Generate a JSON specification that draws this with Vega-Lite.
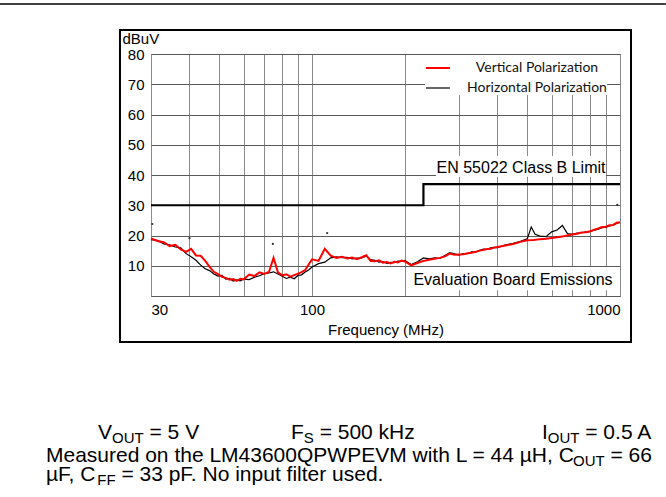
{
  "$schema": "https://vega.github.io/schema/vega-lite/v6.json",
  "autosize": {"type": "none"},
  "padding": {"left": 151, "top": 54, "right": 46, "bottom": 201},
  "width": 469,
  "height": 242,
  "background": "white",
  "config": {
    "view": {"stroke": "#8a8a8a"},
    "font": "Liberation Sans"
  },
  "datasets": {
    "one": [{}],
    "emis": [
      {"f":30,"v":18.6,"p":"Horizontal Polarization"},{"f":31.5,"v":18.4,"p":"Horizontal Polarization"},{"f":33,"v":17.2,"p":"Horizontal Polarization"},{"f":34.5,"v":16.9,"p":"Horizontal Polarization"},{"f":36,"v":16.2,"p":"Horizontal Polarization"},{"f":37.5,"v":15.9,"p":"Horizontal Polarization"},{"f":39,"v":14.0,"p":"Horizontal Polarization"},{"f":40.5,"v":13.0,"p":"Horizontal Polarization"},{"f":42,"v":11.8,"p":"Horizontal Polarization"},{"f":43.5,"v":10.2,"p":"Horizontal Polarization"},{"f":45,"v":9.0,"p":"Horizontal Polarization"},{"f":46.5,"v":8.4,"p":"Horizontal Polarization"},{"f":48,"v":7.3,"p":"Horizontal Polarization"},{"f":49.5,"v":6.6,"p":"Horizontal Polarization"},{"f":51,"v":6.8,"p":"Horizontal Polarization"},{"f":52.5,"v":5.6,"p":"Horizontal Polarization"},{"f":54,"v":5.8,"p":"Horizontal Polarization"},{"f":55.5,"v":4.9,"p":"Horizontal Polarization"},{"f":57,"v":5.3,"p":"Horizontal Polarization"},{"f":58.5,"v":5.0,"p":"Horizontal Polarization"},{"f":60,"v":5.6,"p":"Horizontal Polarization"},{"f":62.5,"v":5.4,"p":"Horizontal Polarization"},{"f":65,"v":6.2,"p":"Horizontal Polarization"},{"f":67.5,"v":6.7,"p":"Horizontal Polarization"},{"f":70,"v":7.4,"p":"Horizontal Polarization"},{"f":72.5,"v":7.6,"p":"Horizontal Polarization"},{"f":75,"v":8.0,"p":"Horizontal Polarization"},{"f":77.5,"v":7.3,"p":"Horizontal Polarization"},{"f":80,"v":6.5,"p":"Horizontal Polarization"},{"f":82.5,"v":5.8,"p":"Horizontal Polarization"},{"f":85,"v":6.2,"p":"Horizontal Polarization"},{"f":87.5,"v":5.7,"p":"Horizontal Polarization"},{"f":90,"v":6.8,"p":"Horizontal Polarization"},{"f":92.5,"v":7.0,"p":"Horizontal Polarization"},{"f":95,"v":7.9,"p":"Horizontal Polarization"},{"f":97.5,"v":8.6,"p":"Horizontal Polarization"},{"f":100,"v":9.6,"p":"Horizontal Polarization"},{"f":105,"v":10.7,"p":"Horizontal Polarization"},{"f":110,"v":11.2,"p":"Horizontal Polarization"},{"f":115,"v":12.6,"p":"Horizontal Polarization"},{"f":120,"v":12.9,"p":"Horizontal Polarization"},{"f":125,"v":12.7,"p":"Horizontal Polarization"},{"f":130,"v":12.8,"p":"Horizontal Polarization"},{"f":135,"v":12.3,"p":"Horizontal Polarization"},{"f":140,"v":12.5,"p":"Horizontal Polarization"},{"f":145,"v":12.6,"p":"Horizontal Polarization"},{"f":150,"v":13.2,"p":"Horizontal Polarization"},{"f":155,"v":12.0,"p":"Horizontal Polarization"},{"f":160,"v":11.8,"p":"Horizontal Polarization"},{"f":165,"v":11.2,"p":"Horizontal Polarization"},{"f":170,"v":11.4,"p":"Horizontal Polarization"},{"f":175,"v":10.8,"p":"Horizontal Polarization"},{"f":180,"v":11.1,"p":"Horizontal Polarization"},{"f":185,"v":11.0,"p":"Horizontal Polarization"},{"f":190,"v":11.5,"p":"Horizontal Polarization"},{"f":195,"v":11.4,"p":"Horizontal Polarization"},{"f":200,"v":11.8,"p":"Horizontal Polarization"},{"f":210,"v":10.4,"p":"Horizontal Polarization"},{"f":220,"v":11.3,"p":"Horizontal Polarization"},{"f":230,"v":12.6,"p":"Horizontal Polarization"},{"f":240,"v":12.3,"p":"Horizontal Polarization"},{"f":250,"v":12.6,"p":"Horizontal Polarization"},{"f":260,"v":12.4,"p":"Horizontal Polarization"},{"f":270,"v":13.4,"p":"Horizontal Polarization"},{"f":280,"v":14.3,"p":"Horizontal Polarization"},{"f":290,"v":13.9,"p":"Horizontal Polarization"},{"f":300,"v":13.5,"p":"Horizontal Polarization"},{"f":310,"v":14.0,"p":"Horizontal Polarization"},{"f":320,"v":14.0,"p":"Horizontal Polarization"},{"f":330,"v":14.6,"p":"Horizontal Polarization"},{"f":340,"v":14.5,"p":"Horizontal Polarization"},{"f":350,"v":15.1,"p":"Horizontal Polarization"},{"f":360,"v":15.5,"p":"Horizontal Polarization"},{"f":370,"v":15.4,"p":"Horizontal Polarization"},{"f":380,"v":15.9,"p":"Horizontal Polarization"},{"f":390,"v":16.1,"p":"Horizontal Polarization"},{"f":400,"v":16.0,"p":"Horizontal Polarization"},{"f":425,"v":16.9,"p":"Horizontal Polarization"},{"f":450,"v":17.4,"p":"Horizontal Polarization"},{"f":475,"v":18.1,"p":"Horizontal Polarization"},{"f":500,"v":18.9,"p":"Horizontal Polarization"},{"f":515,"v":22.8,"p":"Horizontal Polarization"},{"f":530,"v":20.4,"p":"Horizontal Polarization"},{"f":550,"v":19.8,"p":"Horizontal Polarization"},{"f":575,"v":19.6,"p":"Horizontal Polarization"},{"f":600,"v":21.2,"p":"Horizontal Polarization"},{"f":625,"v":21.8,"p":"Horizontal Polarization"},{"f":650,"v":23.3,"p":"Horizontal Polarization"},{"f":675,"v":20.6,"p":"Horizontal Polarization"},{"f":700,"v":20.4,"p":"Horizontal Polarization"},{"f":725,"v":20.8,"p":"Horizontal Polarization"},{"f":750,"v":20.9,"p":"Horizontal Polarization"},{"f":775,"v":21.2,"p":"Horizontal Polarization"},{"f":800,"v":21.3,"p":"Horizontal Polarization"},{"f":825,"v":21.8,"p":"Horizontal Polarization"},{"f":850,"v":22.1,"p":"Horizontal Polarization"},{"f":875,"v":22.6,"p":"Horizontal Polarization"},{"f":900,"v":22.7,"p":"Horizontal Polarization"},{"f":925,"v":23.2,"p":"Horizontal Polarization"},{"f":950,"v":23.4,"p":"Horizontal Polarization"},{"f":975,"v":24.0,"p":"Horizontal Polarization"},{"f":1000,"v":24.3,"p":"Horizontal Polarization"},
      {"f":30,"v":19.0,"p":"Vertical Polarization"},{"f":31.5,"v":18.2,"p":"Vertical Polarization"},{"f":33,"v":17.8,"p":"Vertical Polarization"},{"f":34.5,"v":16.5,"p":"Vertical Polarization"},{"f":36,"v":16.9,"p":"Vertical Polarization"},{"f":37.5,"v":15.4,"p":"Vertical Polarization"},{"f":39,"v":14.6,"p":"Vertical Polarization"},{"f":40.5,"v":15.6,"p":"Vertical Polarization"},{"f":42,"v":13.4,"p":"Vertical Polarization"},{"f":43.5,"v":13.3,"p":"Vertical Polarization"},{"f":45,"v":11.6,"p":"Vertical Polarization"},{"f":46.5,"v":9.6,"p":"Vertical Polarization"},{"f":48,"v":8.0,"p":"Vertical Polarization"},{"f":49.5,"v":7.2,"p":"Vertical Polarization"},{"f":51,"v":6.3,"p":"Vertical Polarization"},{"f":52.5,"v":6.0,"p":"Vertical Polarization"},{"f":54,"v":5.4,"p":"Vertical Polarization"},{"f":55.5,"v":5.6,"p":"Vertical Polarization"},{"f":57,"v":5.0,"p":"Vertical Polarization"},{"f":58.5,"v":5.7,"p":"Vertical Polarization"},{"f":60,"v":5.5,"p":"Vertical Polarization"},{"f":62.5,"v":7.1,"p":"Vertical Polarization"},{"f":65,"v":6.6,"p":"Vertical Polarization"},{"f":67.5,"v":7.8,"p":"Vertical Polarization"},{"f":70,"v":7.3,"p":"Vertical Polarization"},{"f":72.5,"v":8.0,"p":"Vertical Polarization"},{"f":75,"v":12.6,"p":"Vertical Polarization"},{"f":77.5,"v":7.8,"p":"Vertical Polarization"},{"f":80,"v":6.8,"p":"Vertical Polarization"},{"f":82.5,"v":7.2,"p":"Vertical Polarization"},{"f":85,"v":6.4,"p":"Vertical Polarization"},{"f":87.5,"v":6.9,"p":"Vertical Polarization"},{"f":90,"v":7.4,"p":"Vertical Polarization"},{"f":92.5,"v":7.9,"p":"Vertical Polarization"},{"f":95,"v":8.6,"p":"Vertical Polarization"},{"f":97.5,"v":10.4,"p":"Vertical Polarization"},{"f":100,"v":12.1,"p":"Vertical Polarization"},{"f":105,"v":11.6,"p":"Vertical Polarization"},{"f":110,"v":15.6,"p":"Vertical Polarization"},{"f":115,"v":13.3,"p":"Vertical Polarization"},{"f":120,"v":12.6,"p":"Vertical Polarization"},{"f":125,"v":13.0,"p":"Vertical Polarization"},{"f":130,"v":12.4,"p":"Vertical Polarization"},{"f":135,"v":12.7,"p":"Vertical Polarization"},{"f":140,"v":12.2,"p":"Vertical Polarization"},{"f":145,"v":12.8,"p":"Vertical Polarization"},{"f":150,"v":13.5,"p":"Vertical Polarization"},{"f":155,"v":11.6,"p":"Vertical Polarization"},{"f":160,"v":11.5,"p":"Vertical Polarization"},{"f":165,"v":11.8,"p":"Vertical Polarization"},{"f":170,"v":11.0,"p":"Vertical Polarization"},{"f":175,"v":11.2,"p":"Vertical Polarization"},{"f":180,"v":10.8,"p":"Vertical Polarization"},{"f":185,"v":11.3,"p":"Vertical Polarization"},{"f":190,"v":11.1,"p":"Vertical Polarization"},{"f":195,"v":11.7,"p":"Vertical Polarization"},{"f":200,"v":11.4,"p":"Vertical Polarization"},{"f":210,"v":10.1,"p":"Vertical Polarization"},{"f":220,"v":10.9,"p":"Vertical Polarization"},{"f":230,"v":11.6,"p":"Vertical Polarization"},{"f":240,"v":12.0,"p":"Vertical Polarization"},{"f":250,"v":12.3,"p":"Vertical Polarization"},{"f":260,"v":12.6,"p":"Vertical Polarization"},{"f":270,"v":13.1,"p":"Vertical Polarization"},{"f":280,"v":14.0,"p":"Vertical Polarization"},{"f":290,"v":13.6,"p":"Vertical Polarization"},{"f":300,"v":13.7,"p":"Vertical Polarization"},{"f":310,"v":13.8,"p":"Vertical Polarization"},{"f":320,"v":14.1,"p":"Vertical Polarization"},{"f":330,"v":14.3,"p":"Vertical Polarization"},{"f":340,"v":14.6,"p":"Vertical Polarization"},{"f":350,"v":15.0,"p":"Vertical Polarization"},{"f":360,"v":15.2,"p":"Vertical Polarization"},{"f":370,"v":15.5,"p":"Vertical Polarization"},{"f":380,"v":15.6,"p":"Vertical Polarization"},{"f":390,"v":16.0,"p":"Vertical Polarization"},{"f":400,"v":16.2,"p":"Vertical Polarization"},{"f":425,"v":16.7,"p":"Vertical Polarization"},{"f":450,"v":17.2,"p":"Vertical Polarization"},{"f":475,"v":17.9,"p":"Vertical Polarization"},{"f":500,"v":18.4,"p":"Vertical Polarization"},{"f":525,"v":18.5,"p":"Vertical Polarization"},{"f":550,"v":18.8,"p":"Vertical Polarization"},{"f":575,"v":18.9,"p":"Vertical Polarization"},{"f":600,"v":19.2,"p":"Vertical Polarization"},{"f":625,"v":19.4,"p":"Vertical Polarization"},{"f":650,"v":19.7,"p":"Vertical Polarization"},{"f":675,"v":20.0,"p":"Vertical Polarization"},{"f":700,"v":20.3,"p":"Vertical Polarization"},{"f":725,"v":20.6,"p":"Vertical Polarization"},{"f":750,"v":21.0,"p":"Vertical Polarization"},{"f":775,"v":21.1,"p":"Vertical Polarization"},{"f":800,"v":21.4,"p":"Vertical Polarization"},{"f":825,"v":21.9,"p":"Vertical Polarization"},{"f":850,"v":22.3,"p":"Vertical Polarization"},{"f":875,"v":22.8,"p":"Vertical Polarization"},{"f":900,"v":22.9,"p":"Vertical Polarization"},{"f":925,"v":23.4,"p":"Vertical Polarization"},{"f":950,"v":23.5,"p":"Vertical Polarization"},{"f":975,"v":24.2,"p":"Vertical Polarization"},{"f":1000,"v":24.4,"p":"Vertical Polarization"}
    ],
    "limit": [
      {"i":0,"f":30,"v":30},{"i":1,"f":230,"v":30},{"i":2,"f":230,"v":37},{"i":3,"f":1000,"v":37}
    ],
    "dots": [
      {"f":30.3,"v":23.8},{"f":40,"v":19.1},{"f":74.6,"v":17.2},{"f":112,"v":20.8},{"f":980,"v":30.1}
    ]
  },
  "resolve": {"axis": {"x": "independent", "y": "independent"}},
  "layer": [
    {
      "data": {"name": "emis"},
      "mark": {"type": "line", "interpolate": "linear"},
      "encoding": {
        "x": {
          "field": "f", "type": "quantitative",
          "scale": {"type": "log", "domain": [30, 1000], "nice": false},
          "axis": {
            "values": [30, 40, 50, 60, 70, 80, 90, 100, 200, 300, 400, 500, 600, 700, 800, 900, 1000],
            "labelExpr": "(datum.value == 30 || datum.value == 100 || datum.value == 1000) ? '' + datum.value : ''",
            "labelFlush": true,
            "labelFont": "Liberation Sans", "labelFontSize": 15, "labelColor": "#000",
            "labelPadding": 6,
            "ticks": false, "tickSize": 0, "domain": false,
            "grid": true, "gridColor": "#8a8a8a", "gridWidth": 1,
            "title": "Frequency (MHz)",
            "titleFont": "Liberation Sans", "titleFontSize": 15, "titleFontWeight": "normal", "titleColor": "#000",
            "titleBaseline": "alphabetic", "titleY": 38
          }
        },
        "y": {
          "field": "v", "type": "quantitative",
          "scale": {"domain": [0, 80], "nice": false},
          "axis": {
            "values": [0, 10, 20, 30, 40, 50, 60, 70, 80],
            "labelExpr": "datum.value == 0 ? '' : '' + datum.value",
            "labelFont": "Liberation Sans", "labelFontSize": 15, "labelColor": "#000",
            "labelPadding": 7,
            "ticks": false, "tickSize": 0, "domain": false,
            "grid": true, "gridColor": "#5a5a5a", "gridWidth": 1,
            "title": "dBuV",
            "titleFont": "Liberation Sans", "titleFontSize": 15, "titleFontWeight": "normal", "titleColor": "#000",
            "titleAngle": 0, "titleAlign": "left", "titleBaseline": "alphabetic",
            "titleX": -29, "titleY": -11
          }
        },
        "color": {
          "field": "p", "type": "nominal",
          "scale": {"domain": ["Vertical Polarization", "Horizontal Polarization"], "range": ["#ff0000", "#000000"]},
          "legend": {
            "orient": "none", "legendX": 274, "legendY": 1, "title": null, "direction": "vertical",
            "symbolType": "stroke", "symbolSize": 576, "symbolStrokeWidth": 2,
            "labelAlign": "center", "labelOffset": 86, "labelFont": "Lato", "labelFontSize": 14, "labelColor": "#111", "labelLimit": 300,
            "fillColor": "white", "padding": 0, "rowPadding": 0
          }
        },
        "strokeWidth": {
          "field": "p", "type": "nominal",
          "scale": {"domain": ["Vertical Polarization", "Horizontal Polarization"], "range": [2, 1.2]},
          "legend": null
        }
      }
    },
    {
      "data": {"name": "one"},
      "mark": {"type": "rect", "fill": "white"},
      "encoding": {
        "x": {"datum": 252.7, "type": "quantitative", "scale": {"type": "log", "domain": [30, 1000], "nice": false}, "axis": null},
        "x2": {"datum": 900.6},
        "y": {"datum": 46.3, "type": "quantitative", "scale": {"domain": [0, 80], "nice": false}, "axis": null},
        "y2": {"datum": 39.4}
      }
    },
    {
      "data": {"name": "one"},
      "mark": {"type": "rect", "fill": "white"},
      "encoding": {
        "x": {"datum": 211.2, "type": "quantitative", "scale": {"type": "log", "domain": [30, 1000], "nice": false}, "axis": null},
        "x2": {"datum": 942},
        "y": {"datum": 9.55, "type": "quantitative", "scale": {"domain": [0, 80], "nice": false}, "axis": null},
        "y2": {"datum": 1.9}
      }
    },
    {
      "data": {"name": "limit"},
      "mark": {"type": "line", "color": "#000", "strokeWidth": 2.2},
      "encoding": {
        "x": {"field": "f", "type": "quantitative", "scale": {"type": "log", "domain": [30, 1000], "nice": false}, "axis": null},
        "y": {"field": "v", "type": "quantitative", "scale": {"domain": [0, 80], "nice": false}, "axis": null},
        "order": {"field": "i"}
      }
    },
    {
      "data": {"name": "dots"},
      "mark": {"type": "point", "filled": true, "color": "#333", "size": 5, "opacity": 1},
      "encoding": {
        "x": {"field": "f", "type": "quantitative", "scale": {"type": "log", "domain": [30, 1000], "nice": false}, "axis": null},
        "y": {"field": "v", "type": "quantitative", "scale": {"domain": [0, 80], "nice": false}, "axis": null}
      }
    },
    {
      "data": {"name": "one"},
      "mark": {"type": "text", "text": "EN 55022 Class B Limit", "font": "Liberation Sans", "fontSize": 16, "align": "center", "baseline": "alphabetic", "color": "#000"},
      "encoding": {
        "x": {"datum": 477, "type": "quantitative", "scale": {"type": "log", "domain": [30, 1000], "nice": false}, "axis": null},
        "y": {"datum": 40.76, "type": "quantitative", "scale": {"domain": [0, 80], "nice": false}, "axis": null}
      }
    },
    {
      "data": {"name": "one"},
      "mark": {"type": "text", "text": "Evaluation Board Emissions", "font": "Liberation Sans", "fontSize": 16, "align": "center", "baseline": "alphabetic", "color": "#000"},
      "encoding": {
        "x": {"datum": 449.3, "type": "quantitative", "scale": {"type": "log", "domain": [30, 1000], "nice": false}, "axis": null},
        "y": {"datum": 3.64, "type": "quantitative", "scale": {"domain": [0, 80], "nice": false}, "axis": null}
      }
    },
    {
      "data": {"name": "one"},
      "mark": {"type": "rect", "fill": null, "stroke": "#000", "strokeWidth": 2},
      "encoding": {
        "x": {"datum": 23.79, "type": "quantitative", "scale": {"type": "log", "domain": [30, 1000], "nice": false}, "axis": null},
        "x2": {"datum": 1085.8},
        "y": {"datum": 87.93, "type": "quantitative", "scale": {"domain": [0, 80], "nice": false}, "axis": null},
        "y2": {"datum": -15.21}
      }
    },
    {
      "data": {"name": "one"},
      "mark": {"type": "rule", "stroke": "#000", "strokeWidth": 1.5},
      "encoding": {
        "x": {"datum": 9.7, "type": "quantitative", "scale": {"type": "log", "domain": [30, 1000], "nice": false}, "axis": null},
        "x2": {"datum": 1410},
        "y": {"datum": 96.53, "type": "quantitative", "scale": {"domain": [0, 80], "nice": false}, "axis": null}
      }
    },
    {"data": {"name": "one"}, "mark": {"type": "text", "text": "V", "font": "Liberation Sans", "fontSize": 21, "align": "left", "baseline": "alphabetic", "color": "#000"},
     "encoding": {"x": {"datum": 20.18, "type": "quantitative", "scale": {"type": "log", "domain": [30, 1000], "nice": false}, "axis": null}, "y": {"datum": -47.11, "type": "quantitative", "scale": {"domain": [0, 80], "nice": false}, "axis": null}}},
    {"data": {"name": "one"}, "mark": {"type": "text", "text": "OUT", "font": "Liberation Sans", "fontSize": 15, "align": "left", "baseline": "alphabetic", "color": "#000"},
     "encoding": {"x": {"datum": 22.42, "type": "quantitative", "scale": {"type": "log", "domain": [30, 1000], "nice": false}, "axis": null}, "y": {"datum": -48.43, "type": "quantitative", "scale": {"domain": [0, 80], "nice": false}, "axis": null}}},
    {"data": {"name": "one"}, "mark": {"type": "text", "text": "= 5 V", "font": "Liberation Sans", "fontSize": 21, "align": "left", "baseline": "alphabetic", "color": "#000"},
     "encoding": {"x": {"datum": 29.67, "type": "quantitative", "scale": {"type": "log", "domain": [30, 1000], "nice": false}, "axis": null}, "y": {"datum": -47.11, "type": "quantitative", "scale": {"domain": [0, 80], "nice": false}, "axis": null}}},
    {"data": {"name": "one"}, "mark": {"type": "text", "text": "F", "font": "Liberation Sans", "fontSize": 21, "align": "left", "baseline": "alphabetic", "color": "#000"},
     "encoding": {"x": {"datum": 85.44, "type": "quantitative", "scale": {"type": "log", "domain": [30, 1000], "nice": false}, "axis": null}, "y": {"datum": -47.11, "type": "quantitative", "scale": {"domain": [0, 80], "nice": false}, "axis": null}}},
    {"data": {"name": "one"}, "mark": {"type": "text", "text": "S", "font": "Liberation Sans", "fontSize": 15, "align": "left", "baseline": "alphabetic", "color": "#000"},
     "encoding": {"x": {"datum": 94.03, "type": "quantitative", "scale": {"type": "log", "domain": [30, 1000], "nice": false}, "axis": null}, "y": {"datum": -48.43, "type": "quantitative", "scale": {"domain": [0, 80], "nice": false}, "axis": null}}},
    {"data": {"name": "one"}, "mark": {"type": "text", "text": "= 500 kHz", "font": "Liberation Sans", "fontSize": 21, "align": "left", "baseline": "alphabetic", "color": "#000"},
     "encoding": {"x": {"datum": 105.85, "type": "quantitative", "scale": {"type": "log", "domain": [30, 1000], "nice": false}, "axis": null}, "y": {"datum": -47.11, "type": "quantitative", "scale": {"domain": [0, 80], "nice": false}, "axis": null}}},
    {"data": {"name": "one"}, "mark": {"type": "text", "text": "I", "font": "Liberation Sans", "fontSize": 21, "align": "left", "baseline": "alphabetic", "color": "#000"},
     "encoding": {"x": {"datum": 558.0, "type": "quantitative", "scale": {"type": "log", "domain": [30, 1000], "nice": false}, "axis": null}, "y": {"datum": -47.11, "type": "quantitative", "scale": {"domain": [0, 80], "nice": false}, "axis": null}}},
    {"data": {"name": "one"}, "mark": {"type": "text", "text": "OUT", "font": "Liberation Sans", "fontSize": 15, "align": "left", "baseline": "alphabetic", "color": "#000"},
     "encoding": {"x": {"datum": 582.8, "type": "quantitative", "scale": {"type": "log", "domain": [30, 1000], "nice": false}, "axis": null}, "y": {"datum": -48.43, "type": "quantitative", "scale": {"domain": [0, 80], "nice": false}, "axis": null}}},
    {"data": {"name": "one"}, "mark": {"type": "text", "text": "= 0.5 A", "font": "Liberation Sans", "fontSize": 21, "align": "left", "baseline": "alphabetic", "color": "#000"},
     "encoding": {"x": {"datum": 771.3, "type": "quantitative", "scale": {"type": "log", "domain": [30, 1000], "nice": false}, "axis": null}, "y": {"datum": -47.11, "type": "quantitative", "scale": {"domain": [0, 80], "nice": false}, "axis": null}}},
    {"data": {"name": "one"}, "mark": {"type": "text", "text": "Measured on the LM43600QPWPEVM with L = 44 µH, C", "font": "Liberation Sans", "fontSize": 21, "align": "left", "baseline": "alphabetic", "color": "#000"},
     "encoding": {"x": {"datum": 13.68, "type": "quantitative", "scale": {"type": "log", "domain": [30, 1000], "nice": false}, "axis": null}, "y": {"datum": -54.88, "type": "quantitative", "scale": {"domain": [0, 80], "nice": false}, "axis": null}}},
    {"data": {"name": "one"}, "mark": {"type": "text", "text": "OUT", "font": "Liberation Sans", "fontSize": 15, "align": "left", "baseline": "alphabetic", "color": "#000"},
     "encoding": {"x": {"datum": 703.8, "type": "quantitative", "scale": {"type": "log", "domain": [30, 1000], "nice": false}, "axis": null}, "y": {"datum": -56.2, "type": "quantitative", "scale": {"domain": [0, 80], "nice": false}, "axis": null}}},
    {"data": {"name": "one"}, "mark": {"type": "text", "text": "= 66", "font": "Liberation Sans", "fontSize": 21, "align": "left", "baseline": "alphabetic", "color": "#000"},
     "encoding": {"x": {"datum": 931.6, "type": "quantitative", "scale": {"type": "log", "domain": [30, 1000], "nice": false}, "axis": null}, "y": {"datum": -54.88, "type": "quantitative", "scale": {"domain": [0, 80], "nice": false}, "axis": null}}},
    {"data": {"name": "one"}, "mark": {"type": "text", "text": "µF, C", "font": "Liberation Sans", "fontSize": 21, "align": "left", "baseline": "alphabetic", "color": "#000"},
     "encoding": {"x": {"datum": 13.68, "type": "quantitative", "scale": {"type": "log", "domain": [30, 1000], "nice": false}, "axis": null}, "y": {"datum": -61.32, "type": "quantitative", "scale": {"domain": [0, 80], "nice": false}, "axis": null}}},
    {"data": {"name": "one"}, "mark": {"type": "text", "text": "FF", "font": "Liberation Sans", "fontSize": 15, "align": "left", "baseline": "alphabetic", "color": "#000"},
     "encoding": {"x": {"datum": 20.08, "type": "quantitative", "scale": {"type": "log", "domain": [30, 1000], "nice": false}, "axis": null}, "y": {"datum": -62.64, "type": "quantitative", "scale": {"domain": [0, 80], "nice": false}, "axis": null}}},
    {"data": {"name": "one"}, "mark": {"type": "text", "text": "= 33 pF. No input filter used.", "font": "Liberation Sans", "fontSize": 21, "align": "left", "baseline": "alphabetic", "color": "#000"},
     "encoding": {"x": {"datum": 24.04, "type": "quantitative", "scale": {"type": "log", "domain": [30, 1000], "nice": false}, "axis": null}, "y": {"datum": -61.32, "type": "quantitative", "scale": {"domain": [0, 80], "nice": false}, "axis": null}}}
  ]
}
